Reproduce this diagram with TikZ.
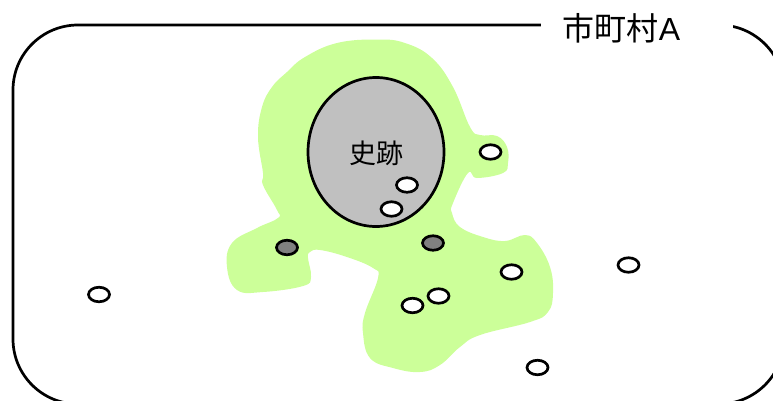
\documentclass[tikz,border=0pt]{standalone}
\usepackage{fontspec}
\setmainfont{Liberation Sans}
\newfontfamily\cjk{Noto Sans CJK JP}
\usetikzlibrary{shapes.geometric}
\definecolor{areagreen}{HTML}{CCFF99}
\definecolor{sitegray}{HTML}{C0C0C0}
\definecolor{darkdot}{HTML}{808080}
\tikzset{
  spot/.style={ellipse,draw=black,line width=2.7pt,fill=white,minimum width=21pt,minimum height=14.5pt,inner sep=0pt},
  darkspot/.style={spot,fill=darkdot},
  site/.style={ellipse,draw=black,line width=2.7pt,fill=sitegray,minimum width=136pt,minimum height=149pt,inner sep=0pt},
  outline/.style={draw=black,line width=2.7pt,rounded corners=65pt},
  bigtext/.style={font=\cjk\fontsize{32}{34}\selectfont,inner sep=0pt},
  sitetext/.style={font=\cjk\fontsize{27}{29}\selectfont,inner sep=0pt}
}
\begin{document}
\begin{tikzpicture}[x=1pt,y=-1pt]
\useasboundingbox (0,0) rectangle (773,400);
\draw[outline] (13,25) rectangle (784,404);
\node[fill=white,minimum width=192pt,minimum height=30pt,inner sep=0pt] (labelbg) at (637,25) {};
\node[bigtext] (city) at (621.5,28) {市町村\fontspec{Liberation Sans}A};
\fill[areagreen] plot[smooth cycle,tension=0.7] coordinates {
(377,39.5)(405,43)(432,58)(453,87)(470,127)(480,135)(497,136)(507,147)(508,163)(503,173)(477,178)(468,173)(453,203)(452,213)(460,227)(483,237)(505,241)(525,235)(537,243)(550,267)(553,293)(548,312)(530,322)(480,335)(460,347)(440,365)(420,372)(393,368)(370,358)(363,333)(365,313)(378,278)(373,268)(347,257)(320,250)(310,252)(308,258)(311,277)(303,286)(263,292)(237,290)(227,267)(232,243)(257,228)(278,218)(277,210)(263,185)(263,173)(258,137)(262,107)(272,87)(287,72)(305,57)(337,43)};
\node[site] (shiseki) at (376,152) {};
\node[sitetext] (sitelabel) at (376,153) {史跡};
\node[spot] (s1) at (490.5,152) {};
\node[spot] (s2) at (407,185) {};
\node[spot] (s3) at (391.5,209) {};
\node[darkspot] (d1) at (287,247.5) {};
\node[darkspot] (d2) at (433,243) {};
\node[spot] (s4) at (511.5,272) {};
\node[spot] (s5) at (438.5,296) {};
\node[spot] (s6) at (412.5,305.5) {};
\node[spot] (s7) at (628.5,265) {};
\node[spot] (s8) at (99,294.5) {};
\node[spot] (s9) at (537.5,367.5) {};
\end{tikzpicture}
\end{document}
